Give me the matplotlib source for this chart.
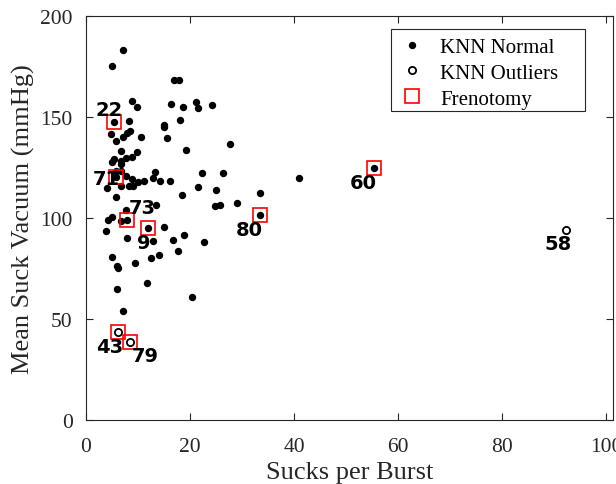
import matplotlib
matplotlib.use('Agg')
import matplotlib.pyplot as plt
from matplotlib.lines import Line2D
from matplotlib.patches import Rectangle

# KNN normal points (sucks per burst, mean suck vacuum in mmHg)
normal_x = [7.1, 5.05, 16.9, 17.9, 8.8, 9.8, 16.3, 18.6, 21.2, 21.6, 24.3,
            5.44, 8.2, 14.9, 15.0, 18.1, 15.5, 27.7, 19.2,
            4.86, 5.7, 7.1, 7.9, 8.5, 10.6,
            6.65, 9.8, 8.9, 7.7, 5.3, 5.05, 6.8, 6.65, 5.7, 6.65,
            5.8, 7.7, 8.8, 10.0, 9.0, 8.3, 6.7, 4.0, 11.1, 12.8, 13.3, 14.3, 16.1,
            18.5, 5.7, 7.75, 13.5, 22.3, 26.3, 40.9, 21.6, 25.0, 33.4,
            24.8, 25.7, 29.1, 33.4,
            5.05, 4.2, 6.65, 7.9, 3.9, 11.9, 15.0, 7.9, 12.9, 16.8, 18.8,
            17.7, 22.6, 5.05, 14.0, 12.5, 9.4, 6.0, 6.15, 11.65, 5.9, 20.3, 7.1,
            55.3]
normal_y = [183.0, 175.4, 168.3, 168.3, 158.1, 154.8, 156.6, 154.8, 157.3, 154.5, 156.1,
            147.5, 148.2, 146.2, 145.0, 148.5, 139.5, 136.8, 133.5,
            141.6, 138.0, 140.2, 142.1, 142.9, 139.9,
            133.3, 132.5, 130.4, 129.6, 129.2, 127.7, 128.0, 126.7, 123.4, 123.4,
            120.5, 120.9, 119.3, 117.7, 116.0, 115.7, 115.8, 114.7, 118.5, 119.6, 122.6, 118.5, 118.5,
            111.6, 110.2, 103.8, 106.6, 122.2, 122.2, 119.7, 115.2, 113.9, 112.5,
            105.8, 106.3, 107.6, 101.3,
            100.3, 99.2, 98.7, 99.2, 93.4, 95.0, 95.7, 90.2, 88.5, 89.3, 91.6,
            83.7, 88.3, 80.5, 81.8, 80.0, 77.7, 76.1, 75.1, 68.0, 64.7, 60.7, 53.8,
            124.6]

# KNN outliers
outlier_x = [6.1, 8.4, 92.2]
outlier_y = [43.4, 38.8, 94.2]

# numbered subjects
label_ids = ['22', '71', '73', '9', '80', '60', '43', '79', '58']
label_x = [5.44, 5.8, 7.9, 11.9, 33.4, 55.3, 6.1, 8.4, 92.2]
label_y = [147.5, 120.5, 99.2, 95.0, 101.3, 124.6, 43.4, 38.8, 94.2]
frenotomy = [True, True, True, True, True, True, True, True, False]

# text offsets in pixels
label_off = [(-5, 13), (-10, -2), (15, 12), (-4, -14), (-10, -14),
             (-10, -14), (-8, -14), (16, -14), (-8, -14)]

fig = plt.figure(figsize=(6.16, 4.85), dpi=100)
ax = fig.add_axes([0.1396, 0.132, 0.8555, 0.833])

ax.plot(normal_x, normal_y, 'o', color='k', ms=4.3, mec='k', zorder=3)
ax.plot(outlier_x, outlier_y, 'o', mfc='none', mec='k', ms=5.2, mew=1.3, zorder=3)
fx = [x for x, f in zip(label_x, frenotomy) if f]
fy = [y for y, f in zip(label_y, frenotomy) if f]
ax.plot(fx, fy, 's', mfc='none', mec='red', ms=9.5, mew=1.2, zorder=4)

for lid, x, y, off in zip(label_ids, label_x, label_y, label_off):
    ax.annotate(lid, (x, y), xytext=off, textcoords='offset pixels',
                ha='center', va='center', fontsize=14, fontweight='bold',
                family='DejaVu Sans', zorder=5)

ax.set_xlim(0, 101.3)
ax.set_ylim(0, 200)
ax.set_xticks([0, 20, 40, 60, 80, 100])
ax.set_yticks([0, 50, 100, 150, 200])
for s in ax.spines.values():
    s.set_color('0.15')
    s.set_linewidth(0.8)
ax.tick_params(direction='in', top=True, right=True, length=5, width=0.8,
               color='0.15', labelsize=15.5, pad=9.5, labelcolor='0.15')
ax.tick_params(axis='x', pad=12)
for lab in ax.get_xticklabels() + ax.get_yticklabels():
    lab.set_family('Liberation Serif')

ax.set_xlabel('Sucks per Burst', family='Liberation Serif', fontsize=19,
              color='0.15', labelpad=3.5)
ax.set_ylabel('Mean Suck Vacuum (mmHg)', family='Liberation Serif', fontsize=19,
              color='0.15', labelpad=4)

# legend box drawn separately (wide right margin)
box = Rectangle((0.5787, 0.7649), 0.9469 - 0.5787, 0.9678 - 0.7649,
                transform=ax.transAxes, fc='white', ec='0.15', lw=0.8, zorder=6)
ax.add_patch(box)

handles = [Line2D([], [], ls='none', marker='o', color='k', ms=4.3),
           Line2D([], [], ls='none', marker='o', mfc='none', mec='k', ms=5.2, mew=1.3),
           Line2D([], [], ls='none', marker='s', mfc='none', mec='red', ms=9.5, mew=1.2)]
leg = ax.legend(handles, ['KNN Normal', 'KNN Outliers', 'Frenotomy'],
                loc='upper left', bbox_to_anchor=(0.5787, 0.9678),
                prop={'family': 'Liberation Serif', 'size': 15},
                frameon=False, handletextpad=0.75, borderpad=0.4,
                labelspacing=0.3, handlelength=1.2, borderaxespad=0)
leg.set_zorder(7)

fig.savefig('out.png', dpi=100)
